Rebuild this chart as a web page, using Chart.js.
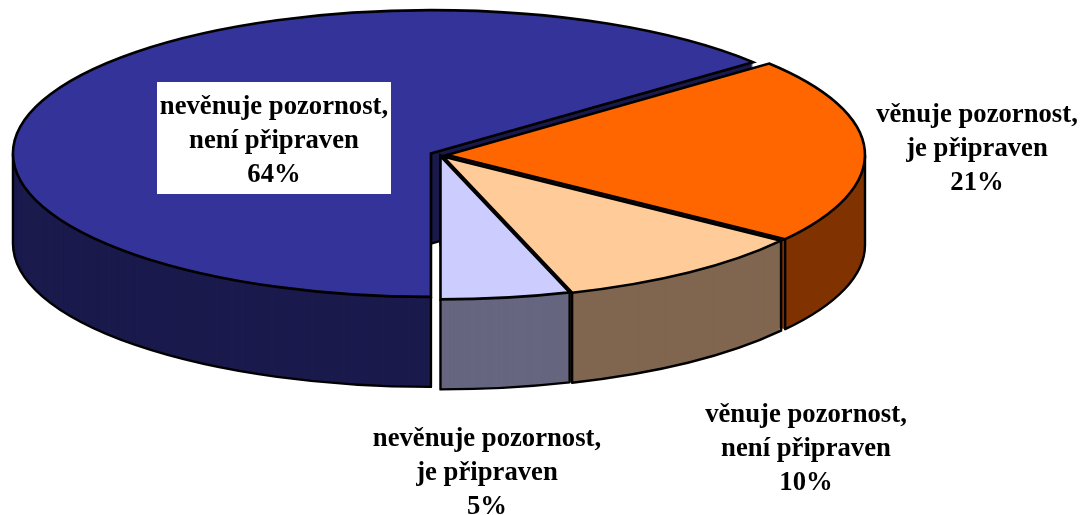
<!DOCTYPE html>
<html><head><meta charset="utf-8">
<style>html,body{margin:0;padding:0;background:#fff}canvas{display:block}</style>
<script src="https://cdn.jsdelivr.net/npm/chart.js@4"></script>
</head><body>
<canvas id="c" width="1080" height="515"></canvas>
<script>
const categories = ["nevěnuje pozornost,|není připraven","věnuje pozornost,|je připraven","věnuje pozornost,|není připraven","nevěnuje pozornost,|je připraven"];
const values = [64, 21, 10, 5];
const topColors = ["#333399","#FF6600","#FFCC99","#CCCCFF"];
const wallColors = ["#1A1A4D","#803300","#806650","#666680"];
const explode = [10, 7, 5, 3];
const labelCenters = [[274,114],[977,122],[806,422],[487,446]];
const SQUASH = 0.343, DEPTH = 90, RADIUS = 418, LINE = 34;

const pie3d = {
  id:'pie3d',
  beforeDatasetDraw(chart,args){
    const ctx = chart.ctx, arcs = args.meta.data;
    arcs.forEach((arc,i)=>{
      const mid=(arc.startAngle+arc.endAngle)/2;
      const ox=arc.x+Math.cos(mid)*explode[i], oy=arc.y+Math.sin(mid)*explode[i]*SQUASH;
      const place=(d)=>{ctx.translate(ox,oy+d);ctx.scale(1,SQUASH);ctx.translate(-arc.x,-arc.y);};
      const base=arc.options;
      // side wall
      arc.options=Object.assign({},base,{backgroundColor:wallColors[i]});
      for(let d=DEPTH;d>=1;d--){ctx.save();place(d);arc.draw(ctx);ctx.restore();}
      arc.options=base;
      // wall outlines
      const R=arc.outerRadius, ry=R*SQUASH;
      const s=arc.startAngle, e=arc.endAngle, T=Math.PI*2;
      ctx.save();
      ctx.strokeStyle='#000';ctx.lineWidth=2.4;ctx.lineJoin='round';
      for(const off of [0,T,-T]){
        const a=Math.max(s,off), b=Math.min(e,off+Math.PI);
        if(b<=a) continue;
        ctx.beginPath();
        ctx.moveTo(ox+R*Math.cos(a),oy+ry*Math.sin(a));
        ctx.ellipse(ox,oy+DEPTH,R,ry,0,a,b);
        ctx.lineTo(ox+R*Math.cos(b),oy+ry*Math.sin(b));
        ctx.stroke();
      }
      // cut face edge at the apex
      ctx.beginPath();
      ctx.moveTo(ox,oy);ctx.lineTo(ox,oy+DEPTH);
      if(i===0){ctx.lineTo(ox+R*Math.cos(e),oy+DEPTH+ry*Math.sin(e));}
      ctx.stroke();
      ctx.restore();
      // top face
      ctx.save();place(0);arc.draw(ctx);ctx.restore();
      ctx.save();
      ctx.strokeStyle='#000';ctx.lineWidth=2.6;ctx.lineJoin='miter';
      ctx.beginPath();ctx.moveTo(ox,oy);ctx.ellipse(ox,oy,R,ry,0,s,e);ctx.closePath();ctx.stroke();
      ctx.restore();
    });
    return false;
  },
  afterDraw(chart){
    const ctx=chart.ctx;
    ctx.save();
    ctx.fillStyle='#fff';ctx.fillRect(157,82,234,112);
    ctx.fillStyle='#000';ctx.textAlign='center';ctx.textBaseline='alphabetic';
    ctx.font='bold 26.7px "Liberation Serif"';
    categories.forEach((c,i)=>{
      const lines=c.split('|').concat(values[i]+'%');
      lines.forEach((t,j)=>ctx.fillText(t,labelCenters[i][0],labelCenters[i][1]+j*LINE));
    });
    ctx.restore();
  }
};

new Chart(document.getElementById('c'),{
  type:'pie',
  data:{labels:categories,datasets:[{data:values,backgroundColor:topColors,borderWidth:0}]},
  options:{
    responsive:false,animation:false,radius:RADIUS,rotation:180,
    layout:{padding:{right:200,bottom:205}},
    plugins:{legend:{display:false},tooltip:{enabled:false}}
  },
  plugins:[pie3d]
});
</script>
</body></html>
